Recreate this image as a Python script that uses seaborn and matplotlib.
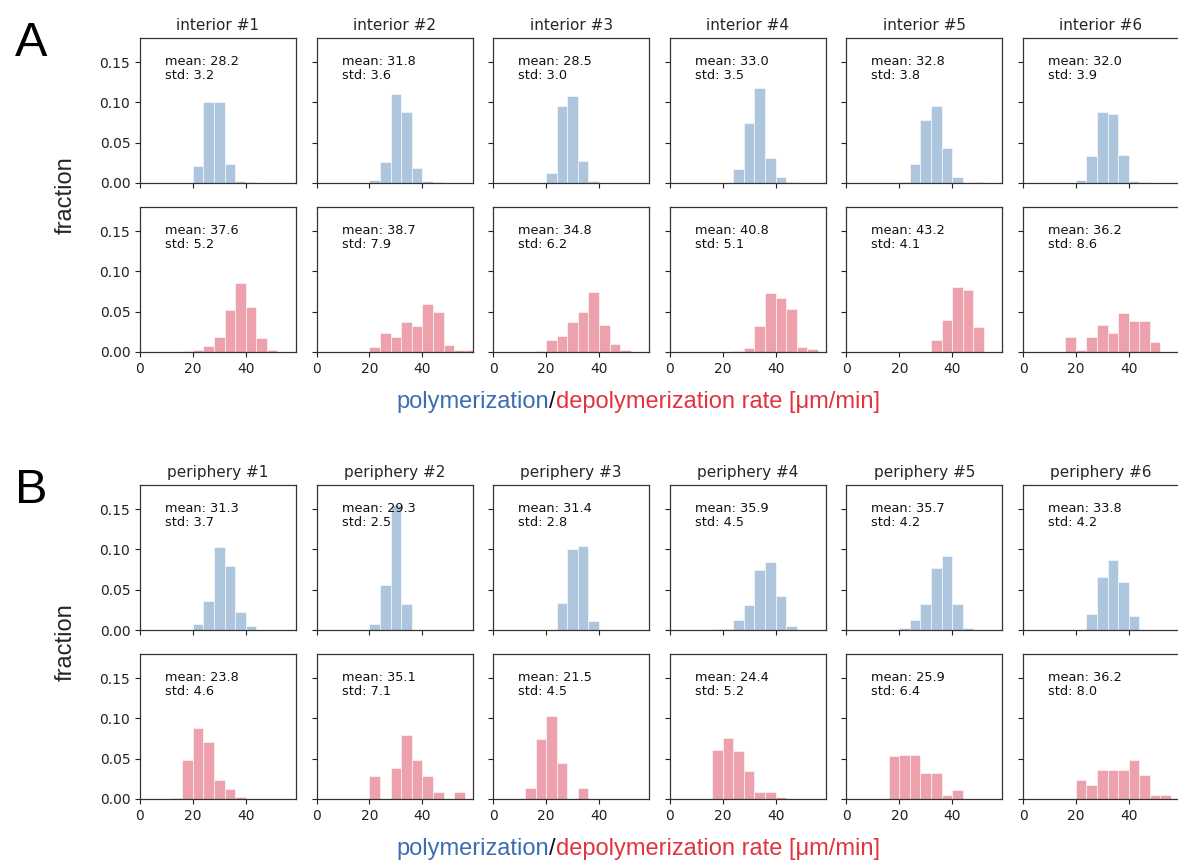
import numpy as np
import pandas as pd
import matplotlib
matplotlib.use("Agg")
import matplotlib.pyplot as plt
import seaborn as sns
from matplotlib.offsetbox import TextArea, HPacker, AnchoredOffsetbox

sns.set_style("ticks")
plt.rcParams["font.family"] = ["DejaVu Sans"]

# ---------------- data ----------------
bin_edges = list(range(0, 61, 4))          # 0,4,...,60  (15 bins)

interior_labels = ["interior #1", "interior #2", "interior #3",
                   "interior #4", "interior #5", "interior #6"]
periphery_labels = ["periphery #1", "periphery #2", "periphery #3",
                    "periphery #4", "periphery #5", "periphery #6"]

interior_poly_mean = [28.2, 31.8, 28.5, 33.0, 32.8, 32.0]
interior_poly_std = [3.2, 3.6, 3.0, 3.5, 3.8, 3.9]
interior_depol_mean = [37.6, 38.7, 34.8, 40.8, 43.2, 36.2]
interior_depol_std = [5.2, 7.9, 6.2, 5.1, 4.1, 8.6]
periphery_poly_mean = [31.3, 29.3, 31.4, 35.9, 35.7, 33.8]
periphery_poly_std = [3.7, 2.5, 2.8, 4.5, 4.2, 4.2]
periphery_depol_mean = [23.8, 35.1, 21.5, 24.4, 25.9, 36.2]
periphery_depol_std = [4.6, 7.1, 4.5, 5.2, 6.4, 8.0]

# bar heights (fraction) per bin 0-4, 4-8, ..., 56-60
interior_poly = [
    [0, 0, 0, 0, 0, .021, .101, .100, .023, .003, .001, 0, 0, 0, 0],
    [0, 0, 0, 0, 0, .004, .026, .110, .088, .019, .002, .001, 0, 0, 0],
    [0, 0, 0, 0, 0, .013, .096, .108, .027, .002, 0, 0, 0, 0, 0],
    [0, 0, 0, 0, 0, 0, .017, .075, .118, .031, .007, .001, 0, 0, 0],
    [0, 0, 0, 0, 0, .001, .023, .078, .096, .043, .007, 0, .001, 0, 0],
    [0, 0, 0, 0, 0, .004, .033, .088, .086, .035, .003, .001, 0, 0, 0],
]
interior_depol = [
    [0, 0, 0, 0, .001, .002, .008, .018, .052, .086, .056, .017, .003, 0, 0],
    [0, 0, 0, 0, 0, .006, .024, .018, .037, .032, .060, .050, .009, .003, .003],
    [0, 0, 0, 0, .001, .015, .020, .037, .050, .075, .033, .010, .002, 0, 0],
    [0, 0, 0, 0, 0, 0, .001, .005, .032, .073, .067, .053, .006, .004, 0],
    [0, 0, 0, 0, 0, 0, 0, 0, .015, .040, .081, .077, .031, 0, 0],
    [0, 0, 0, 0, .018, .003, .018, .033, .023, .048, .038, .038, .013, 0, 0],
]
periphery_poly = [
    [0, 0, 0, 0, 0, .007, .036, .103, .079, .022, .005, 0, 0, 0, 0],
    [0, 0, 0, 0, 0, .008, .056, .155, .032, 0, 0, 0, 0, 0, 0],
    [0, 0, 0, 0, 0, 0, .034, .100, .104, .011, 0, 0, 0, 0, 0],
    [0, 0, 0, 0, .001, .001, .012, .031, .075, .085, .042, .005, 0, 0, 0],
    [0, 0, 0, 0, 0, .002, .012, .032, .077, .092, .032, .003, 0, 0, 0],
    [0, 0, 0, 0, 0, 0, .020, .066, .087, .059, .018, 0, 0, 0, 0],
]
periphery_depol = [
    [0, 0, 0, .001, .048, .088, .071, .023, .012, .003, 0, 0, 0, 0, 0],
    [0, 0, 0, 0, 0, .029, 0, .039, .080, .049, .029, .009, 0, .009, 0],
    [0, 0, 0, .014, .074, .103, .045, 0, .014, 0, 0, 0, 0, 0, 0],
    [0, 0, 0, 0, .061, .076, .059, .035, .009, .009, .002, 0, 0, 0, 0],
    [0, 0, 0, 0, .053, .055, .055, .032, .032, .005, .011, 0, 0, 0, 0],
    [0, 0, 0, 0, 0, .024, .018, .036, .036, .036, .049, .030, .005, .005, 0],
]

BLUE_BAR = "#aec5de"
RED_BAR = "#eca1ad"
BLUE_TXT = "#3a6db2"
RED_TXT = "#e2333f"

# ---------------- figure ----------------
W, H = 1178, 867
fig = plt.figure(figsize=(W / 100, H / 100), dpi=100)

col_left = [140 + i * 176.6 for i in range(6)]
ax_w, ax_h = 156, 145
row_tops = [38, 207, 485, 654]

centers = [(bin_edges[i] + bin_edges[i + 1]) / 2 for i in range(len(bin_edges) - 1)]


def make_ax(x, ytop):
    return fig.add_axes([x / W, 1 - (ytop + ax_h) / H, ax_w / W, ax_h / H])


def draw_panel(ax, heights, color, mean, std, show_xlabels, show_ylabels):
    df = pd.DataFrame({"rate": centers, "fraction": heights})
    sns.histplot(data=df, x="rate", weights="fraction", bins=bin_edges,
                 color=color, alpha=1, edgecolor="white", linewidth=0.4, ax=ax)
    ax.set_xlim(0, 59)
    ax.set_ylim(0, 0.18)
    ax.set_xticks([0, 20, 40])
    ax.set_yticks([0, 0.05, 0.10, 0.15])
    ax.set_xlabel("")
    ax.set_ylabel("")
    if show_xlabels:
        ax.set_xticklabels(["0", "20", "40"])
    else:
        ax.set_xticklabels([])
    if show_ylabels:
        ax.set_yticklabels(["0.00", "0.05", "0.10", "0.15"])
    else:
        ax.set_yticklabels([])
    ax.tick_params(labelsize=10, length=3.5, width=0.8, colors="#222222")
    for s in ax.spines.values():
        s.set_linewidth(0.9)
        s.set_color("#333333")
    ax.text(0.16, 0.885, f"mean: {mean:.1f}\nstd: {std:.1f}", transform=ax.transAxes,
            ha="left", va="top", fontsize=9.3, linespacing=1.15, color="#111111")


groups = [
    (interior_labels, interior_poly, interior_poly_mean, interior_poly_std,
     interior_depol, interior_depol_mean, interior_depol_std, 0),
    (periphery_labels, periphery_poly, periphery_poly_mean, periphery_poly_std,
     periphery_depol, periphery_depol_mean, periphery_depol_std, 2),
]

for (labels, poly, pmean, pstd, depol, dmean, dstd, r0) in groups:
    for c in range(6):
        ax1 = make_ax(col_left[c], row_tops[r0])
        draw_panel(ax1, poly[c], BLUE_BAR, pmean[c], pstd[c], False, c == 0)
        ax1.set_title(labels[c], fontsize=11, pad=6)
        ax2 = make_ax(col_left[c], row_tops[r0 + 1])
        draw_panel(ax2, depol[c], RED_BAR, dmean[c], dstd[c], True, c == 0)

    ytop = row_tops[r0]
    ybot = row_tops[r0 + 1] + ax_h
    # y label
    fig.text(66 / W, 1 - ((ytop + ybot) / 2) / H, "fraction", rotation=90,
             ha="center", va="center", fontsize=17, family="Liberation Sans")
    # panel letter
    fig.text(31 / W, 1 - (ytop + 5) / H, "A" if r0 == 0 else "B",
             ha="center", va="center", fontsize=35, family="Liberation Sans",
             color="black")
    # colored x label
    tp = dict(fontsize=17, family="Liberation Sans")
    pack = HPacker(children=[
        TextArea("polymerization", textprops=dict(color=BLUE_TXT, **tp)),
        TextArea("/", textprops=dict(color="#111111", **tp)),
        TextArea("depolymerization rate [μm/min]", textprops=dict(color=RED_TXT, **tp)),
    ], align="baseline", pad=0, sep=0)
    box = AnchoredOffsetbox(loc="center", child=pack, pad=0, borderpad=0, frameon=False,
                            bbox_to_anchor=(638 / W, 1 - (ybot + 50) / H),
                            bbox_transform=fig.transFigure)
    fig.add_artist(box)

fig.savefig("out.png", dpi=100)
